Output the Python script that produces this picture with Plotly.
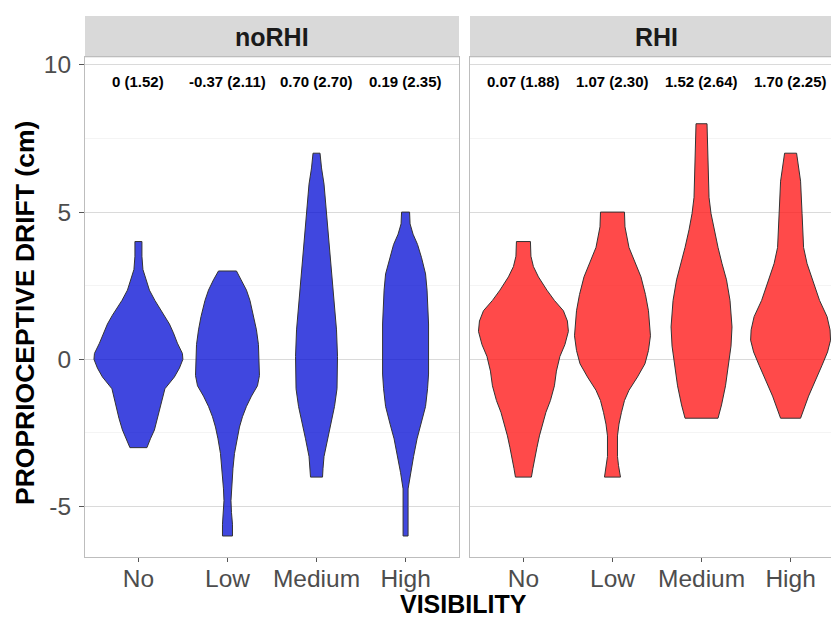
import plotly.graph_objects as go

# ---------------- data ----------------
categories = ["No", "Low", "Medium", "High"]
panels = ["noRHI", "RHI"]

labels_noRHI = ["0 (1.52)", "-0.37 (2.11)", "0.70 (2.70)", "0.19 (2.35)"]
labels_RHI = ["0.07 (1.88)", "1.07 (2.30)", "1.52 (2.64)", "1.70 (2.25)"]

# violin profiles: drift levels (cm) and relative density (violin width) at each level
noRHI_No_y = [4.0, 3.5, 3.05, 2.7, 2.35, 2.0, 1.75, 1.5, 1.2, 0.9, 0.55, 0.2, 0.0, -0.3, -0.6, -1.0, -1.4, -1.7, -2.0, -2.4, -2.7, -3.0]
noRHI_No_d = [7, 7, 9, 15, 22, 33, 42, 52, 62, 70, 78, 88, 89, 82, 72, 53, 47, 43, 39, 32, 24, 17]

noRHI_Low_y = [3.0, 2.7, 2.35, 2.0, 1.45, 1.0, 0.5, 0.1, -0.55, -0.9, -1.25, -1.6, -1.95, -2.3, -2.7, -3.2, -3.7, -4.4, -4.8, -5.2, -5.6, -6.0]
noRHI_Low_d = [18, 28, 38, 45, 53, 58, 62, 63, 64, 60, 48, 38, 30, 24, 19, 14, 11, 8, 7, 8, 10, 10]

noRHI_Med_y = [7.0, 6.5, 5.95, 5.0, 4.25, 3.5, 2.35, 1.0, 0.1, -1.0, -1.6, -2.15, -2.7, -3.3, -3.7, -4.0]
noRHI_Med_d = [7, 10, 15, 20, 23, 28, 33, 40, 42, 41, 36, 29, 22, 15, 13, 12]

noRHI_High_y = [5.0, 4.6, 4.25, 3.9, 3.45, 2.9, 2.35, 1.2, -0.5, -1.0, -1.6, -2.2, -2.7, -3.3, -3.85, -4.4, -5.0, -6.0]
noRHI_High_d = [8, 9, 15, 24, 32, 40, 43, 46, 46, 44, 40, 31, 23, 16, 10, 5, 5, 5]

RHI_No_y = [4.0, 3.5, 3.15, 2.8, 2.35, 2.0, 1.65, 1.3, 0.95, 0.5, 0.1, -0.4, -0.9, -1.4, -1.8, -2.2, -2.6, -3.0, -3.3, -3.7, -4.0]
RHI_No_d = [14, 15, 20, 30, 47, 62, 80, 88, 90, 83, 73, 66, 62, 54, 45, 38, 32, 27, 23, 19, 16]

RHI_Low_y = [5.0, 4.5, 3.8, 3.3, 2.8, 2.2, 1.65, 0.8, 0.3, -0.15, -0.6, -1.05, -1.4, -1.8, -2.2, -2.6, -3.3, -3.6, -4.0]
RHI_Low_d = [24, 25, 33, 45, 57, 66, 72, 76, 72, 65, 50, 33, 24, 18, 13, 10, 10, 12, 16]

RHI_Med_y = [8.0, 7.2, 5.5, 4.95, 4.4, 3.8, 3.25, 2.7, 2.0, 1.1, 0.45, -0.2, -0.9, -1.55, -2.0]
RHI_Med_d = [11, 12.5, 15, 19, 25, 33, 41, 50, 57, 61, 59, 54, 48, 40, 33]

RHI_High_y = [7.0, 6.05, 4.95, 3.8, 3.25, 2.7, 2.0, 1.45, 1.0, 0.65, 0.25, -0.2, -0.65, -1.25, -2.0]
RHI_High_d = [12, 20, 23, 26, 33, 44, 58, 73, 79, 80, 74, 63, 52, 36, 20]

profiles = {
    "noRHI": [(noRHI_No_y, noRHI_No_d), (noRHI_Low_y, noRHI_Low_d),
              (noRHI_Med_y, noRHI_Med_d), (noRHI_High_y, noRHI_High_d)],
    "RHI": [(RHI_No_y, RHI_No_d), (RHI_Low_y, RHI_Low_d),
            (RHI_Med_y, RHI_Med_d), (RHI_High_y, RHI_High_d)],
}
mean_labels = {"noRHI": labels_noRHI, "RHI": labels_RHI}

# ---------------- style ----------------
W, H = 831, 619
FONT = "Liberation Sans, Arial, sans-serif"
fills = {"noRHI": "rgba(0,10,212,0.75)", "RHI": "rgba(255,20,20,0.77)"}
DENSITY_MAX = 90.0
VIOLIN_MAX_WIDTH = 1.01  # in category units


def fx(px):
    return px / W


def fy(py):
    return 1 - py / H


fig = go.Figure()

axes = {"noRHI": ("x", "y"), "RHI": ("x2", "y2")}
for panel in panels:
    xa, ya = axes[panel]
    for i, (ys, ds) in enumerate(profiles[panel]):
        half = [d / DENSITY_MAX * VIOLIN_MAX_WIDTH / 2 for d in ds]
        xs = [i + h for h in half] + [i - h for h in reversed(half)]
        yy = list(ys) + list(reversed(ys))
        xs.append(xs[0])
        yy.append(yy[0])
        fig.add_trace(go.Scatter(
            x=xs, y=yy, mode="lines", fill="toself",
            fillcolor=fills[panel],
            line=dict(color="#333333", width=1),
            xaxis=xa, yaxis=ya, showlegend=False, hoverinfo="skip",
        ))

common_y = dict(
    range=[-6.70, 10.25], tickvals=[-5, 0, 5, 10], ticktext=["-5", "0", "5", "10"],
    showgrid=True, gridcolor="#DADADA", gridwidth=1.4,
    minor=dict(dtick=2.5, tick0=0, showgrid=True, gridcolor="#F4F4F4", gridwidth=1),
    zeroline=False, showline=True, linecolor="#BDBDBD", linewidth=1,
)
common_x = dict(
    tickvals=[0, 1, 2, 3], ticktext=categories, showgrid=False, zeroline=False,
    showline=True, linecolor="#BDBDBD", linewidth=1, mirror=True,
    ticks="outside", ticklen=4, tickcolor="#555555", tickwidth=1,
    ticklabelstandoff=-4,
    tickfont=dict(family=FONT, size=24.5, color="#4D4D4D"),
)

fig.update_layout(
    width=W, height=H, autosize=False,
    margin=dict(l=0, r=0, t=0, b=0),
    paper_bgcolor="white", plot_bgcolor="white",
    showlegend=False,
    xaxis=dict(domain=[fx(85), fx(459)], range=[-0.6, 3.6], anchor="y", **common_x),
    xaxis2=dict(domain=[fx(470), 1.0], range=[-0.6, -0.6 + (831 - 470) / 89.05], anchor="y2", **common_x),
    yaxis=dict(domain=[fy(556), fy(52)], anchor="x", mirror=True,
               ticks="outside", ticklen=5, tickcolor="#555555", tickwidth=1,
               ticklabelstandoff=3,
               tickfont=dict(family=FONT, size=24.5, color="#4D4D4D"), **common_y),
    yaxis2=dict(domain=[fy(556), fy(52)], anchor="x2", matches="y",
                showticklabels=False, ticks="", mirror=False, **common_y),
)

# strips
fig.add_shape(type="rect", xref="paper", yref="paper", x0=fx(85), x1=fx(459),
              y0=fy(52), y1=fy(10), fillcolor="#D9D9D9", line=dict(width=0), layer="below")
fig.add_shape(type="rect", xref="paper", yref="paper", x0=fx(470), x1=1.0,
              y0=fy(52), y1=fy(10), fillcolor="#D9D9D9", line=dict(width=0), layer="below")
fig.add_annotation(x=fx(272), y=fy(31), xref="paper", yref="paper", text="<b>noRHI</b>",
                   showarrow=False, font=dict(family=FONT, size=25, color="#1A1A1A"),
                   xanchor="center", yanchor="middle")
fig.add_annotation(x=fx(656.5), y=fy(31), xref="paper", yref="paper", text="<b>RHI</b>",
                   showarrow=False, font=dict(family=FONT, size=25, color="#1A1A1A"),
                   xanchor="center", yanchor="middle")

# mean (sd) labels
for panel in panels:
    xa, ya = axes[panel]
    for i, lab in enumerate(mean_labels[panel]):
        fig.add_annotation(x=i, y=9.45, xref=xa, yref=ya, text="<b>" + lab + "</b>",
                           showarrow=False, font=dict(family=FONT, size=15, color="black"),
                           xanchor="center", yanchor="middle")

# axis titles
fig.add_annotation(x=fx(25), y=fy(310), xref="paper", yref="paper",
                   text="<b>PROPRIOCEPTIVE DRIFT (cm)</b>", textangle=-90, showarrow=False,
                   font=dict(family=FONT, size=26.5, color="black"),
                   xanchor="center", yanchor="middle")
fig.add_annotation(x=fx(463), y=0, xref="paper", yref="paper",
                   text="<b>VISIBILITY</b>", showarrow=False,
                   font=dict(family=FONT, size=25, color="black"),
                   xanchor="center", yanchor="bottom", borderpad=0)

fig.write_html(
    "out.html",
    config={"displayModeBar": False},
    post_script="document.body.style.margin='0px';document.body.style.overflow='hidden';",
)
